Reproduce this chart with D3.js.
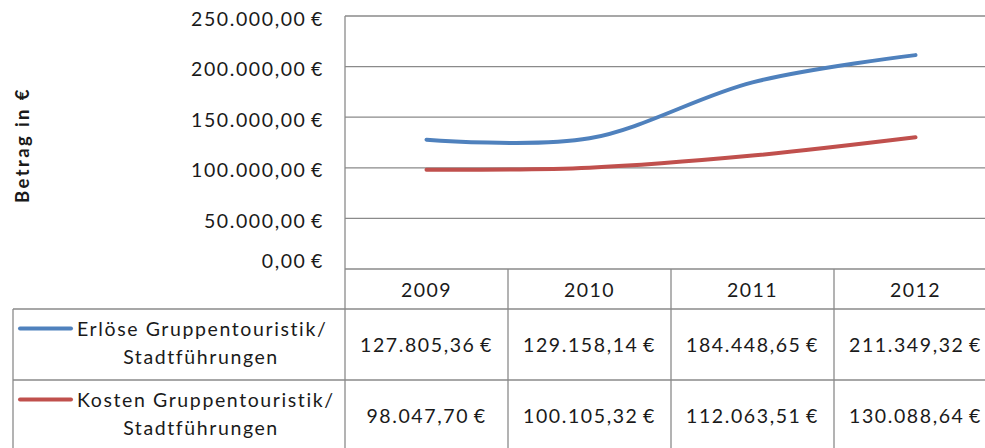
<!doctype html>
<html>
<head>
<meta charset="utf-8">
<script src="https://d3js.org/d3.v7.min.js"></script>
<style>
  body { margin: 0; background: #fff; }
  svg text { font-family: Lato, "Open Sans", sans-serif; fill: #1a1a1a; word-spacing: -2px; }
</style>
</head>
<body>
<script>
// data
var years = ["2009", "2010", "2011", "2012"];
var erloese = [127805.36, 129158.14, 184448.65, 211349.32];
var kosten = [98047.70, 100105.32, 112063.51, 130088.64];
var seriesLabels = [["Erlöse Gruppentouristik/", "Stadtführungen"],
                    ["Kosten Gruppentouristik/", "Stadtführungen"]];
var seriesColors = ["#4f81bd", "#c0504d"];
var yTicks = [0, 50000, 100000, 150000, 200000, 250000];
var yTitle = "Betrag in €";

var width = 985, height = 448;
var plotLeft = 345, plotRight = 997, plotTop = 16, plotBottom = 269;
var headH = 40, rowH = 71, tableLeft = 13;
var gridColor = "#8a8a8a";

var series = [
  { label: seriesLabels[0], values: erloese, color: seriesColors[0] },
  { label: seriesLabels[1], values: kosten, color: seriesColors[1] }
];

// german number format, e.g. 127.805,36 €
var de = d3.formatLocale({ decimal: ",", thousands: ".", grouping: [3], currency: ["", " €"] });
var fmt = de.format("$,.2f");

var x = d3.scaleBand().domain(years).range([plotLeft, plotRight]);
var y = d3.scaleLinear().domain([0, 250000]).range([plotBottom, plotTop]);

var svg = d3.select("body").append("svg")
    .attr("width", width)
    .attr("height", height);

// horizontal gridlines
svg.append("g").selectAll("line")
    .data(yTicks)
    .enter().append("line")
    .attr("x1", plotLeft).attr("x2", width)
    .attr("y1", function(d) { return y(d); })
    .attr("y2", function(d) { return y(d); })
    .attr("stroke", gridColor).attr("stroke-width", 1.3);

// tick labels (excel nudges the 0 label up above the table)
svg.append("g").selectAll("text")
    .data(yTicks)
    .enter().append("text")
    .attr("x", 324)
    .attr("y", function(d) { return y(d) + (d === 0 ? -1 : 9.5); })
    .attr("text-anchor", "end")
    .style("font-size", "19.5px")
    .style("letter-spacing", "1.6px")
    .text(function(d) { return fmt(d); });

// axis title
svg.append("text")
    .attr("transform", "translate(29,145) rotate(-90)")
    .attr("text-anchor", "middle")
    .style("font-size", "18.5px")
    .style("font-weight", "bold")
    .style("letter-spacing", "2.4px")
    .style("word-spacing", "0px")
    .text(yTitle);

// data table grid
var rowTop = [plotBottom + headH, plotBottom + headH + rowH];
var tableBottom = rowTop[1] + rowH;
var grid = svg.append("g").attr("stroke", gridColor).attr("stroke-width", 1.3);
grid.append("line").attr("x1", plotLeft).attr("x2", plotLeft).attr("y1", plotTop).attr("y2", tableBottom);
grid.append("line").attr("x1", tableLeft).attr("x2", tableLeft).attr("y1", rowTop[0]).attr("y2", tableBottom);
grid.selectAll(".col")
    .data(years.slice(1))
    .enter().append("line")
    .attr("x1", function(d) { return x(d); })
    .attr("x2", function(d) { return x(d); })
    .attr("y1", plotBottom).attr("y2", tableBottom);
grid.selectAll(".row")
    .data(rowTop.concat([tableBottom]))
    .enter().append("line")
    .attr("x1", tableLeft).attr("x2", width)
    .attr("y1", function(d) { return d; })
    .attr("y2", function(d) { return d; });

// header years
svg.append("g").selectAll("text")
    .data(years)
    .enter().append("text")
    .attr("x", function(d) { return x(d) + x.bandwidth() / 2; })
    .attr("y", plotBottom + headH / 2 + 8)
    .attr("text-anchor", "middle")
    .style("font-size", "19.5px")
    .style("letter-spacing", "1.5px")
    .text(function(d) { return d; });

// lines
var line = d3.line()
    .x(function(d, i) { return x(years[i]) + x.bandwidth() / 2; })
    .y(function(d) { return y(d); })
    .curve(d3.curveCatmullRom.alpha(0));

svg.append("g").selectAll("path")
    .data(series)
    .enter().append("path")
    .attr("d", function(d) { return line(d.values); })
    .attr("fill", "none")
    .attr("stroke", function(d) { return d.color; })
    .attr("stroke-width", 4)
    .attr("stroke-linecap", "round");

// table rows: legend key + values
series.forEach(function(s, r) {
  var top = rowTop[r];
  var g = svg.append("g");
  g.append("line")
    .attr("x1", 20).attr("x2", 71)
    .attr("y1", top + 19.5).attr("y2", top + 19.5)
    .attr("stroke", s.color).attr("stroke-width", 4).attr("stroke-linecap", "round");
  g.append("text")
    .attr("x", 77).attr("y", top + 27)
    .style("font-size", "19.5px")
    .style("letter-spacing", "1.6px")
    .style("word-spacing", "0px")
    .text(s.label[0]);
  g.append("text")
    .attr("x", 201).attr("y", top + 55)
    .attr("text-anchor", "middle")
    .style("font-size", "19.5px")
    .style("letter-spacing", "1.6px")
    .text(s.label[1]);
  g.selectAll(".val")
    .data(s.values)
    .enter().append("text")
    .attr("x", function(d, i) { return x(years[i]) + x.bandwidth() / 2; })
    .attr("y", top + rowH / 2 + 7.5)
    .attr("text-anchor", "middle")
    .style("font-size", "19.5px")
    .style("letter-spacing", "1.6px")
    .text(function(d) { return fmt(d); });
});
</script>
</body>
</html>
